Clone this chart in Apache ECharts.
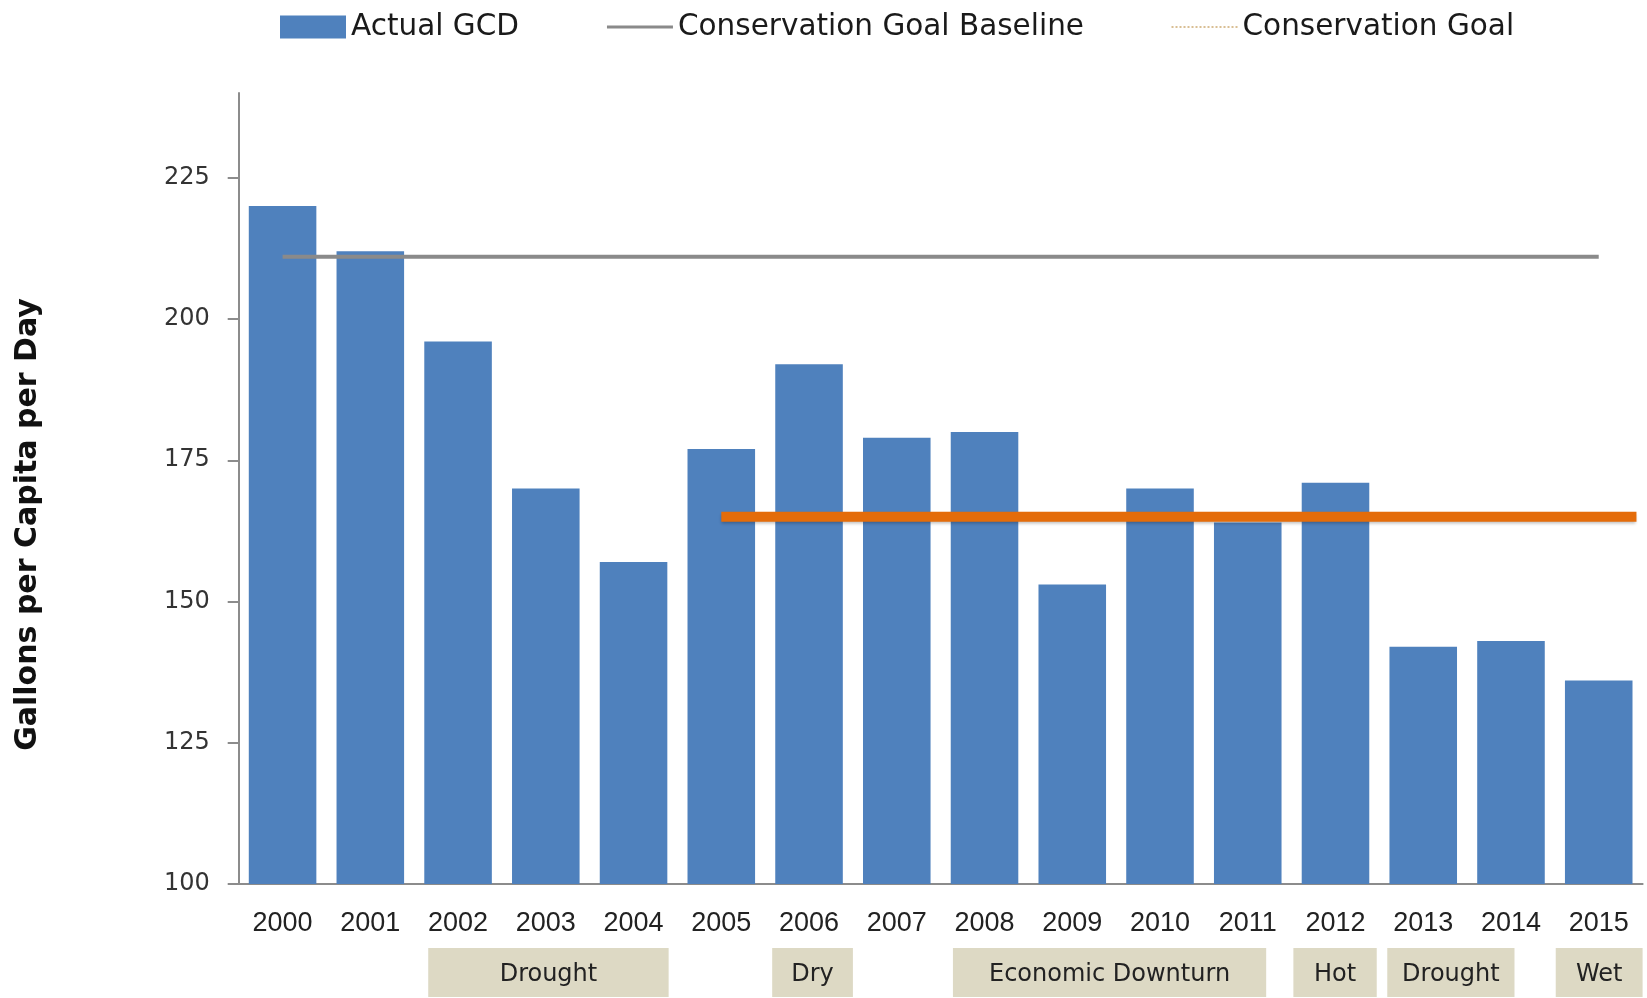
<!DOCTYPE html>
<html>
<head>
<meta charset="utf-8">
<script src="https://cdn.jsdelivr.net/npm/echarts@6/dist/echarts.min.js"></script>
<style>
  html, body { margin: 0; padding: 0; background: #fff; }
  #chart { width: 1647px; height: 998px; }
</style>
</head>
<body>
<div id="chart"></div>
<script>
// 年份
const years = ['2000', '2001', '2002', '2003', '2004', '2005', '2006', '2007',
  '2008', '2009', '2010', '2011', '2012', '2013', '2014', '2015']
// 实际人均日用水量
const actualGcd = [220, 212, 196, 170, 157, 177, 192, 179, 180, 153, 170, 164, 171, 142, 143, 136]
// y轴刻度
const yTicks = [100, 125, 150, 175, 200, 225]
// 基准线 / 目标线 (年份, 数值)
const baselineLine = [[2000, 211], [2015, 211]]
const goalLine = [[2005, 165], [2015.43, 165]]
// 底部事件标注
const eventNames = ['Drought', 'Dry', 'Economic Downturn', 'Hot', 'Drought', 'Wet']
const eventFrom = [2001.66, 2005.58, 2007.64, 2011.52, 2012.59, 2014.51]
const eventTo = [2004.40, 2006.50, 2011.21, 2012.47, 2014.04, 2015.5]

const chart = echarts.init(document.getElementById('chart'))

const gridLeft = 238.7
const gridRight = 4.4

const option = {
  backgroundColor: '#fff',
  animation: false,
  legend: {
    left: 275,
    top: 7,
    itemWidth: 66,
    itemHeight: 23,
    itemGap: 86.5,
    textStyle: { fontFamily: 'DejaVu Sans', fontSize: 29.5, color: '#1a1a1a' },
    data: [
      { name: 'Actual GCD', icon: 'rect' },
      {
        name: 'Conservation Goal Baseline',
        itemStyle: { opacity: 0 },
        lineStyle: { color: '#8a8a8a', width: 3 }
      },
      {
        name: 'Conservation Goal',
        itemStyle: { opacity: 0 },
        lineStyle: { color: '#d9bf94', width: 2, type: 'dotted' }
      }
    ]
  },
  grid: [
    { left: gridLeft, right: gridRight, top: 93, bottom: 114 },
    { left: gridLeft, right: gridRight, top: 948, height: 49 }
  ],
  xAxis: [
    {
      type: 'category',
      gridIndex: 0,
      data: years,
      axisLine: { lineStyle: { color: '#8c8c8c', width: 2 } },
      axisTick: { show: false },
      axisLabel: { fontFamily: 'Liberation Sans', fontSize: 27, color: '#222', margin: 26 }
    },
    {
      type: 'value',
      gridIndex: 0,
      min: 1999.5,
      max: 2015.5,
      show: false
    },
    {
      type: 'value',
      gridIndex: 1,
      min: 1999.5,
      max: 2015.5,
      show: false
    }
  ],
  yAxis: [
    {
      type: 'value',
      gridIndex: 0,
      min: 100,
      max: 240,
      interval: 25,
      name: 'Gallons per Capita per Day',
      nameLocation: 'middle',
      nameGap: 195,
      nameTextStyle: {
        fontFamily: 'DejaVu Sans',
        fontWeight: 'bold',
        fontSize: 30,
        color: '#111',
        padding: [0, 72, 0, 0]
      },
      axisLine: { show: true, lineStyle: { color: '#8c8c8c', width: 2 } },
      axisTick: { show: true, length: 11, customValues: yTicks, lineStyle: { color: '#8c8c8c', width: 2 } },
      axisLabel: { customValues: yTicks, fontFamily: 'DejaVu Sans', fontSize: 24, color: '#333', margin: 29 },
      splitLine: { show: false }
    },
    {
      type: 'value',
      gridIndex: 1,
      min: 0,
      max: 1,
      show: false
    }
  ],
  series: [
    {
      name: 'Actual GCD',
      type: 'bar',
      xAxisIndex: 0,
      yAxisIndex: 0,
      data: actualGcd,
      barCategoryGap: '23%',
      itemStyle: { color: '#4F81BD' }
    },
    {
      name: 'Conservation Goal Baseline',
      type: 'line',
      xAxisIndex: 1,
      yAxisIndex: 0,
      data: baselineLine,
      symbol: 'none',
      itemStyle: { color: '#8a8a8a' },
      lineStyle: { color: '#8a8a8a', width: 4 },
      z: 3
    },
    {
      name: 'Conservation Goal',
      type: 'line',
      xAxisIndex: 1,
      yAxisIndex: 0,
      data: goalLine,
      symbol: 'none',
      itemStyle: { color: '#E46C0A' },
      lineStyle: {
        color: '#E46C0A',
        width: 10,
        shadowColor: 'rgba(0,0,0,0.25)',
        shadowBlur: 3,
        shadowOffsetY: 2
      },
      z: 4
    },
    {
      type: 'custom',
      xAxisIndex: 2,
      yAxisIndex: 1,
      data: eventFrom.map((v, i) => [v, eventTo[i]]),
      encode: { x: [0, 1] },
      clip: false,
      renderItem: (params, api) => {
        const i = params.dataIndex
        const p0 = api.coord([api.value(0), 1])
        const p1 = api.coord([api.value(1), 0])
        return {
          type: 'group',
          children: [
            {
              type: 'rect',
              shape: { x: p0[0], y: p0[1], width: p1[0] - p0[0], height: p1[1] - p0[1] },
              style: { fill: '#DDD9C4' }
            },
            {
              type: 'text',
              style: {
                text: eventNames[i],
                x: (p0[0] + p1[0]) / 2,
                y: (p0[1] + p1[1]) / 2 + 2,
                align: 'center',
                verticalAlign: 'middle',
                fontFamily: 'DejaVu Sans',
                fontSize: 24,
                fill: '#222'
              }
            }
          ]
        }
      }
    }
  ]
}

chart.setOption(option)
</script>
</body>
</html>
